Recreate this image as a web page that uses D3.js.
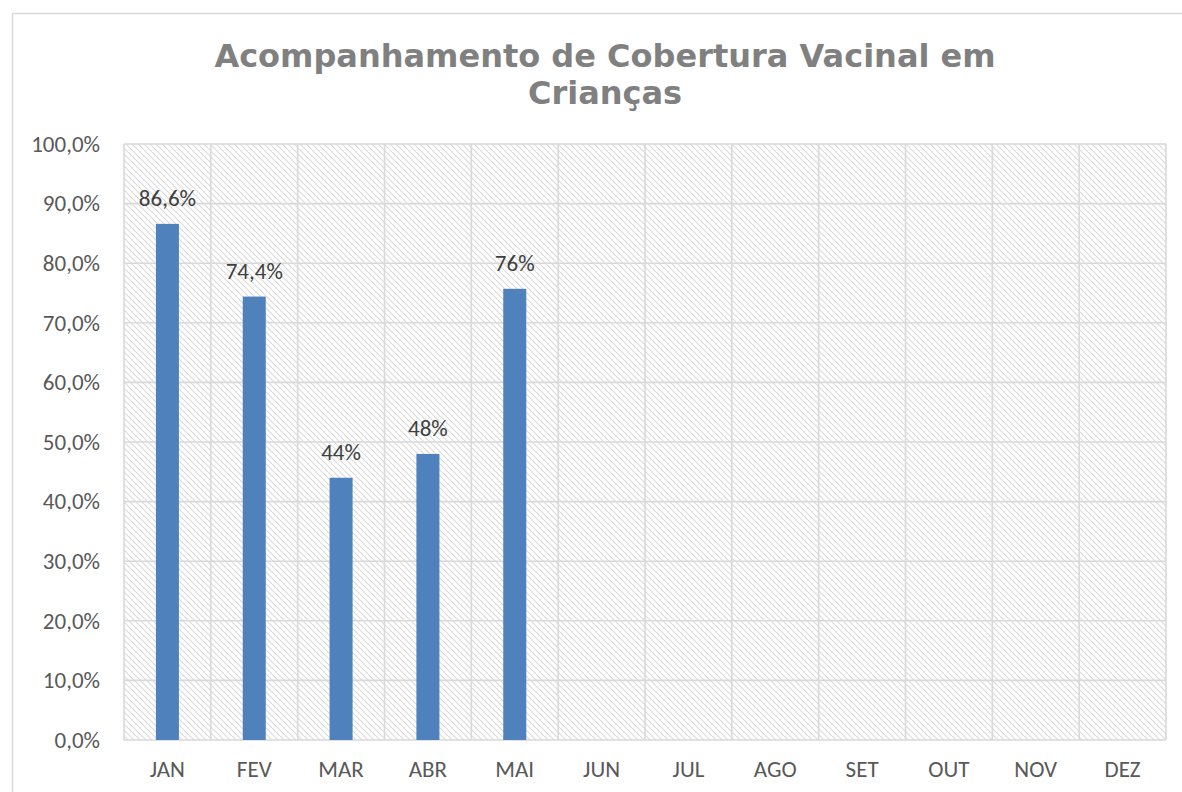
<!DOCTYPE html>
<html>
<head>
<meta charset="utf-8">
<script src="https://cdn.jsdelivr.net/npm/d3@7"></script>
<style>
  html, body { margin: 0; padding: 0; background: #fff; overflow: hidden; }
  svg { display: block; }
</style>
</head>
<body>
<svg id="chart"></svg>
<script>
const months = ["JAN", "FEV", "MAR", "ABR", "MAI", "JUN", "JUL", "AGO", "SET", "OUT", "NOV", "DEZ"];
const coverage = [86.6, 74.4, 44.0, 48.0, 75.7, null, null, null, null, null, null, null];
const barLabels = ["86,6%", "74,4%", "44%", "48%", "76%"];
const yTicks = [0, 10, 20, 30, 40, 50, 60, 70, 80, 90, 100];
const titleLines = ["Acompanhamento de Cobertura Vacinal em", "Crianças"];

const width = 1182;
const height = 792;
const margin = { top: 144, right: 16, bottom: 52, left: 124 };
const labelFont = "Carlito, Calibri, Lato, sans-serif";
const labelSize = "23px";

const svg = d3.select("#chart").attr("width", width).attr("height", height);

// hatch fill of the plot area
const pattern = svg
  .append("defs")
  .append("pattern")
  .attr("id", "hatch")
  .attr("patternUnits", "userSpaceOnUse")
  .attr("width", 6)
  .attr("height", 6);
pattern
  .append("path")
  .attr("d", "M-1,-1 L7,7 M-1,5 L1,7 M5,-1 L7,1")
  .attr("stroke", "#dadada")
  .attr("stroke-width", 1.1);

// chart border
svg
  .append("rect")
  .attr("x", 12.5)
  .attr("y", 13.5)
  .attr("width", width)
  .attr("height", height)
  .attr("fill", "none")
  .attr("stroke", "#d9d9d9")
  .attr("stroke-width", 1.5);

const x = d3
  .scaleBand()
  .domain(months)
  .range([margin.left, width - margin.right])
  .paddingInner(0)
  .paddingOuter(0);

const y = d3
  .scaleLinear()
  .domain([0, 100])
  .range([height - margin.bottom, margin.top]);

svg
  .append("rect")
  .attr("x", x.range()[0])
  .attr("y", y(100))
  .attr("width", x.range()[1] - x.range()[0])
  .attr("height", y(0) - y(100))
  .attr("fill", "url(#hatch)");

// horizontal gridlines
svg
  .append("g")
  .selectAll("line")
  .data(yTicks)
  .join("line")
  .attr("x1", x.range()[0])
  .attr("x2", x.range()[1])
  .attr("y1", (d) => y(d))
  .attr("y2", (d) => y(d))
  .attr("stroke", "#d9d9d9")
  .attr("stroke-width", 1.6);

// vertical gridlines at category boundaries
const bounds = months.map((m) => x(m)).concat([x.range()[1]]);
svg
  .append("g")
  .selectAll("line")
  .data(bounds)
  .join("line")
  .attr("x1", (d) => d)
  .attr("x2", (d) => d)
  .attr("y1", y(100))
  .attr("y2", y(0))
  .attr("stroke", "#d9d9d9")
  .attr("stroke-width", 1.6);

// y axis labels
const yAxis = svg
  .append("g")
  .attr("transform", `translate(${margin.left - 12},0)`)
  .call(
    d3
      .axisLeft(y)
      .tickValues(yTicks)
      .tickSize(0)
      .tickPadding(12)
      .tickFormat((d) => d3.format(".1f")(d).replace(".", ",") + "%")
  );
yAxis.select(".domain").remove();
yAxis
  .selectAll("text")
  .attr("font-family", labelFont)
  .attr("font-size", labelSize)
  .attr("fill", "#595959");

// x axis labels
const xAxis = svg
  .append("g")
  .attr("transform", `translate(0,${y(0)})`)
  .call(d3.axisBottom(x).tickSize(0).tickPadding(21));
xAxis.select(".domain").remove();
xAxis
  .selectAll("text")
  .attr("font-family", labelFont)
  .attr("font-size", labelSize)
  .attr("fill", "#595959");

// bars
const barData = months
  .map((m, i) => ({ month: m, value: coverage[i], label: barLabels[i] }))
  .filter((d) => d.value != null);

const barWidth = x.bandwidth() * 0.265;

svg
  .append("g")
  .selectAll("rect")
  .data(barData)
  .join("rect")
  .attr("x", (d) => x(d.month) + x.bandwidth() / 2 - barWidth / 2)
  .attr("y", (d) => y(d.value))
  .attr("width", barWidth)
  .attr("height", (d) => y(0) - y(d.value))
  .attr("fill", "#4f81bd");

svg
  .append("g")
  .selectAll("text")
  .data(barData)
  .join("text")
  .attr("x", (d) => x(d.month) + x.bandwidth() / 2)
  .attr("y", (d) => y(d.value) - 18)
  .attr("text-anchor", "middle")
  .attr("font-family", labelFont)
  .attr("font-size", labelSize)
  .attr("fill", "#404040")
  .text((d) => d.label);

// title
svg
  .append("text")
  .attr("text-anchor", "middle")
  .attr("font-family", "'DejaVu Sans', Verdana, sans-serif")
  .attr("font-weight", "bold")
  .attr("font-size", "32px")
  .attr("fill", "#808080")
  .selectAll("tspan")
  .data(titleLines)
  .join("tspan")
  .attr("x", 605)
  .attr("y", (d, i) => 67 + i * 37)
  .text((d) => d);
</script>
</body>
</html>
